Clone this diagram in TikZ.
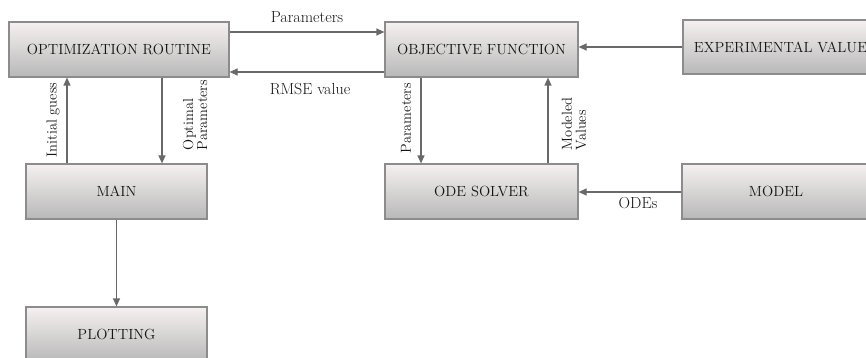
\documentclass[tikz,border=0pt]{standalone}
\usetikzlibrary{arrows.meta,calc}
\definecolor{boxtop}{RGB}{246,240,240}
\definecolor{boxbot}{RGB}{184,184,184}
\definecolor{boxline}{RGB}{140,140,140}
\definecolor{linecol}{RGB}{105,105,105}
\definecolor{txt}{RGB}{20,20,20}
\tikzset{
  box/.style={draw=boxline, line width=1.2pt, top color=boxtop, bottom color=boxbot,
    minimum height=55pt, inner sep=0pt, text=txt, font=\fontsize{14.7}{16}\selectfont},
  arr/.style={draw=linecol, line width=1.2pt, -{Triangle[length=8pt,width=7pt]}},
  lab/.style={text=txt, font=\fontsize{16}{15}\selectfont, inner sep=0pt},
  vlab/.style={text=txt, font=\fontsize{14.5}{14}\selectfont, inner sep=0pt, rotate=90, align=left},
}
\begin{document}
\begin{tikzpicture}[x=1pt,y=-1pt]
\useasboundingbox (0,0) rectangle (866,358);
\clip (0,0) rectangle (866,358);
\node[box, minimum width=220pt] (opt) at (119,49.5) {OPTIMIZATION ROUTINE};
\node[box, minimum width=193pt] (obj) at (481.5,49.5) {OBJECTIVE FUNCTION};
\node[box, minimum width=203pt, minimum height=54pt] (exp) at (784.5,47) {EXPERIMENTAL VALUES};
\node[box, minimum width=181pt] (main) at (116.5,191.5) {MAIN};
\node[box, minimum width=181pt] (plot) at (116.5,334.5) {PLOTTING};
\node[box, minimum width=193pt] (ode) at (481.5,191.5) {ODE SOLVER};
\node[box, minimum width=188pt] (model) at (776,191.5) {MODEL};

\draw[arr] (opt.east |- {(0,32)}) -- (obj.west |- {(0,32)});
\draw[arr] (obj.west |- {(0,72)}) -- (opt.east |- {(0,72)});
\draw[arr] (exp.west |- {(0,47)}) -- (obj.east |- {(0,47)});
\draw[arr] (main.north -| {(67,0)}) -- (opt.south -| {(67,0)});
\draw[arr] (opt.south -| {(162,0)}) -- (main.north -| {(162,0)});
\draw[arr] (main.south) -- (plot.north);
\draw[arr] (obj.south -| {(421,0)}) -- (ode.north -| {(421,0)});
\draw[arr] (ode.north -| {(548,0)}) -- (obj.south -| {(548,0)});
\draw[arr] (model.west |- {(0,192)}) -- (ode.east |- {(0,192)});

\node[lab] (lpar) at (307,17) {Parameters};
\node[lab] (lrmse) at (310,89) {RMSE value};
\node[vlab] (linit) at (53,120) {Initial guess};
\node[vlab] (lopt) at (195,115) {Optimal\\Parameters};
\node[vlab] (lpar2) at (406,118) {Parameters};
\node[vlab] (lmod) at (574,124) {Modeled\\Values};
\node[lab] (lode) at (638,203) {ODEs};
\end{tikzpicture}
\end{document}
